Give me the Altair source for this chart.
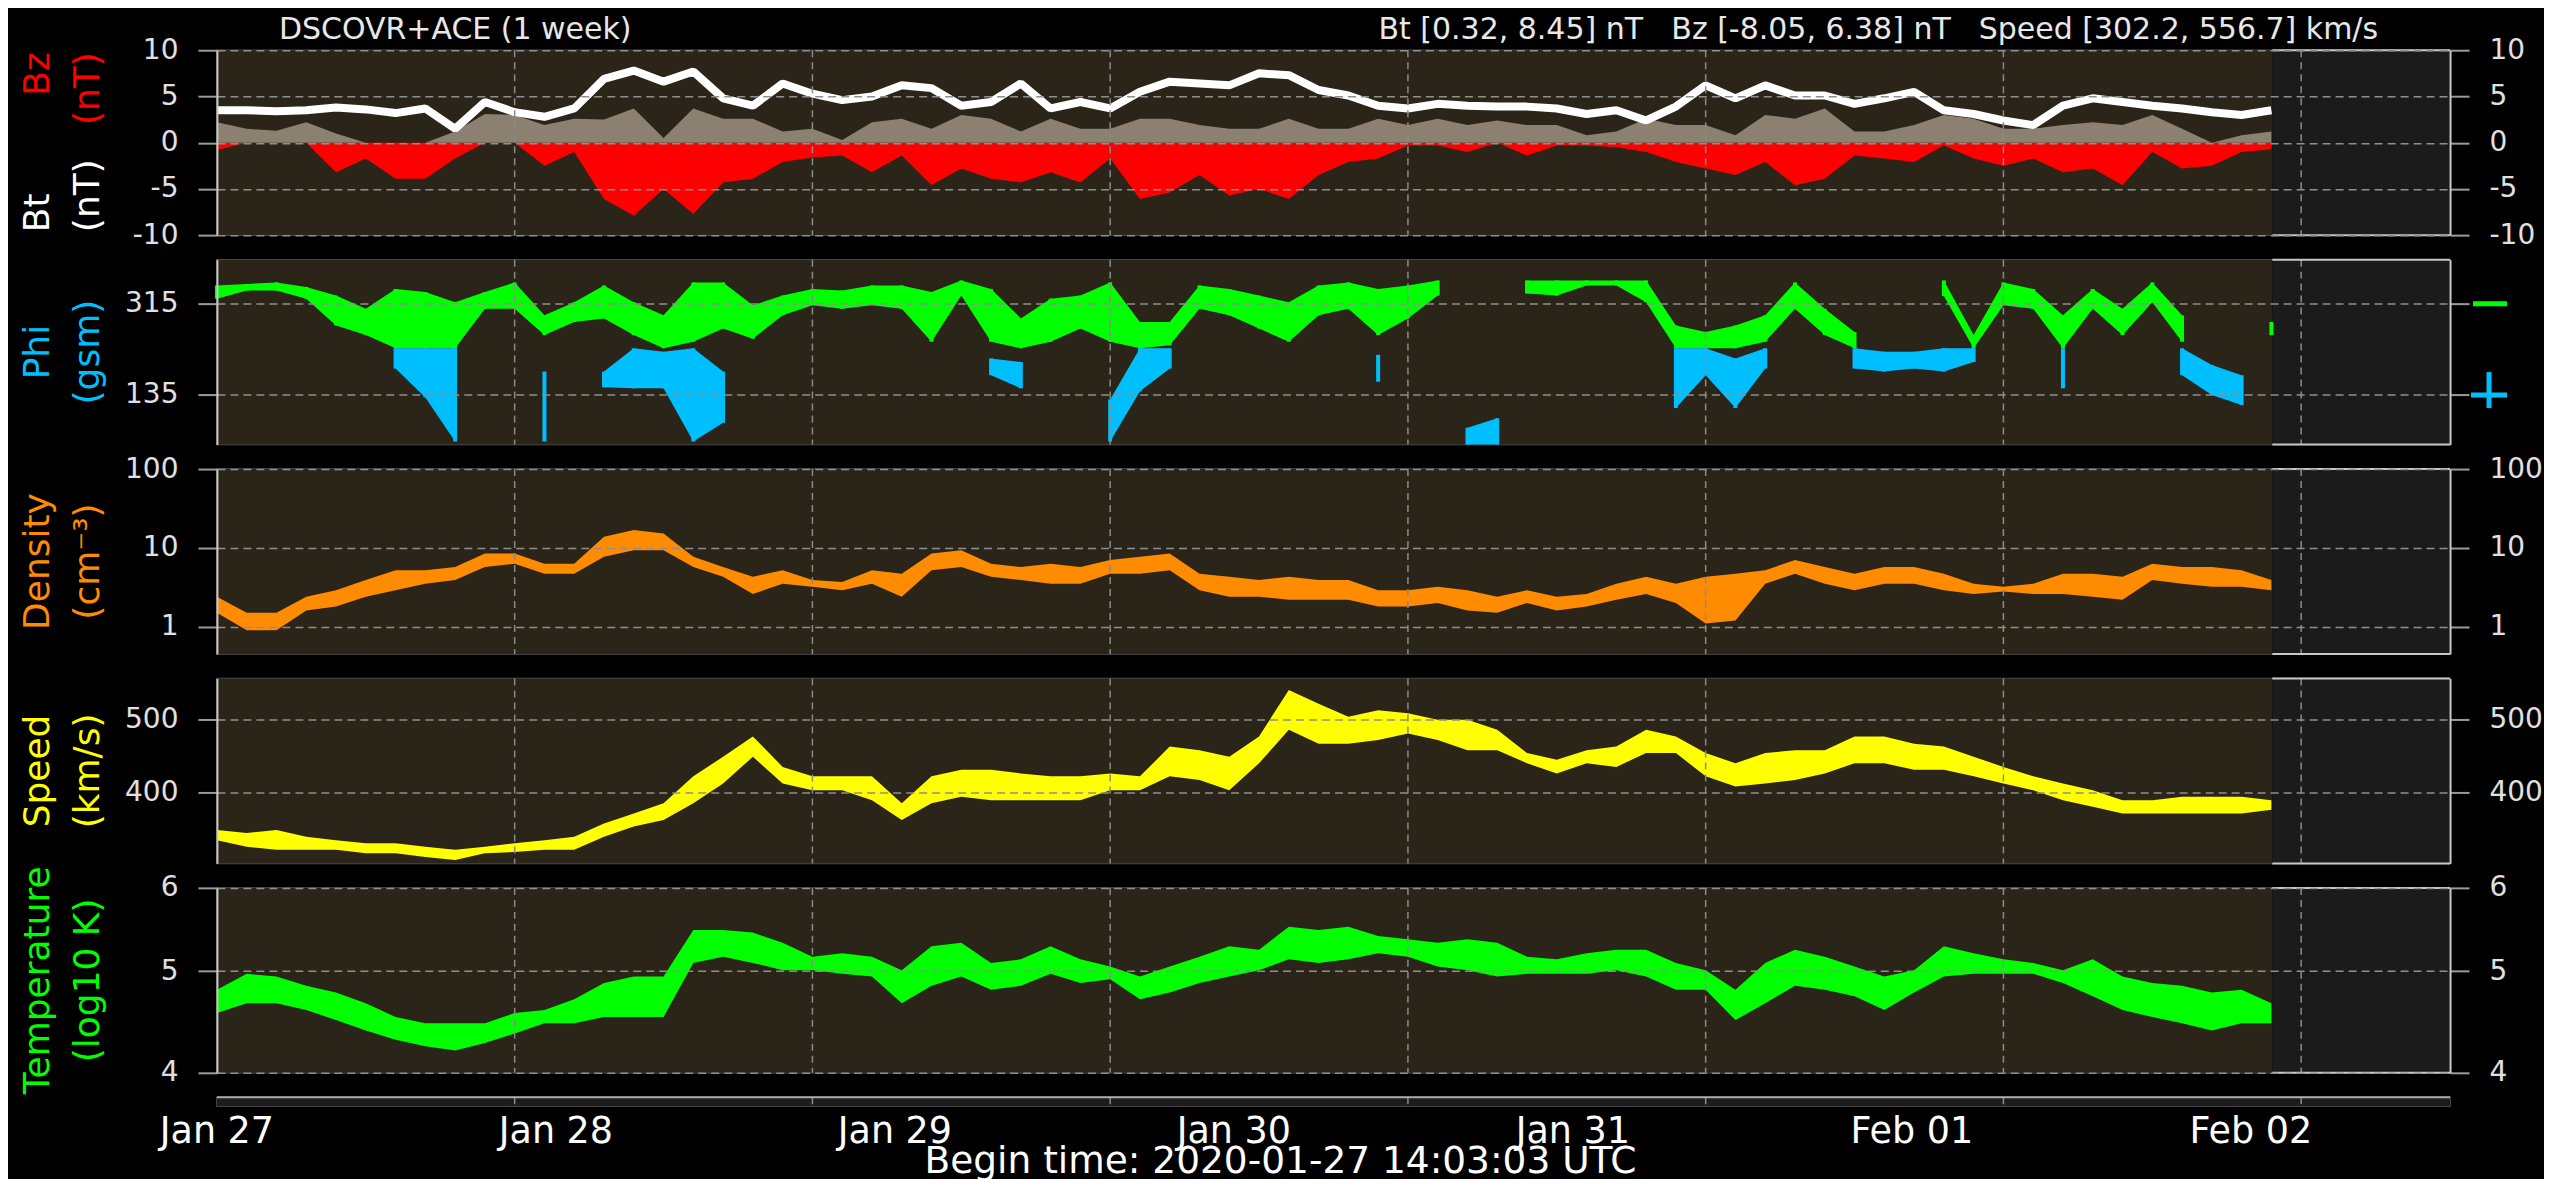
import altair as alt
import pandas as pd

FONT = "DejaVu Sans"

# ---------------- x positions (days since begin time) and labels ----------------
DAY = [round(0.1 * i, 1) for i in range(70)]
DATA_END = 6.903
X_MAX = 7.5
GRID_DAYS = [1, 2, 3, 4, 5, 6, 7]
LABEL_POS = [0.0, 1.1385, 2.277, 3.4155, 4.554, 5.6925, 6.831]
LABEL_TXT = ["Jan 27", "Jan 28", "Jan 29", "Jan 30", "Jan 31", "Feb 01", "Feb 02"]

# ---------------- Bt / Bz (nT) ----------------
BT = [3.5, 3.5, 3.4, 3.5, 3.8, 3.6, 3.2, 3.7, 1.5, 4.4,
      3.3, 2.8, 3.7, 6.9, 7.8, 6.6, 7.7, 4.8, 4.0, 6.4,
      5.3, 4.6, 5.0, 6.2, 5.9, 4.0, 4.4, 6.4, 3.7, 4.4,
      3.7, 5.5, 6.6, 6.4, 6.2, 7.5, 7.3, 5.7, 5.1, 4.0,
      3.7, 4.2, 4.0, 3.9, 3.9, 3.7, 3.1, 3.5, 2.4, 3.9,
      6.2, 4.8, 6.2, 5.1, 5.1, 4.2, 4.8, 5.5, 3.5, 3.1,
      2.4, 1.9, 4.0, 4.8, 4.4, 4.0, 3.7, 3.3, 3.0, 3.5]
BZ_NEG = [-0.8, 0, 0, 0, -3.2, -1.7, -3.9, -3.9, -1.7, 0,
          0, -2.5, -1.0, -6.1, -7.9, -5.0, -7.7, -4.3, -3.9, -2.1,
          -1.6, -1.4, -3.2, -1.4, -4.6, -2.8, -3.9, -4.3, -3.2, -4.3,
          -1.7, -6.1, -5.4, -3.5, -5.7, -5.0, -6.1, -3.5, -2.1, -1.7,
          -0.3, -0.3, -1.0, 0, -1.4, -0.3, -0.3, -0.5, -1.0, -2.1,
          -2.8, -3.5, -2.1, -4.6, -3.9, -1.4, -1.7, -2.1, -0.3, -1.7,
          -2.5, -1.7, -3.2, -2.8, -4.6, -1.0, -2.8, -2.5, -1.0, -0.7]
BZ_POS = [2.2, 1.5, 1.3, 2.2, 1.0, 0, 0, 0, 1.2, 3.1,
          3.0, 1.9, 2.6, 2.5, 3.7, 0.5, 3.7, 2.6, 2.6, 1.2,
          1.5, 0.3, 2.2, 2.6, 1.5, 3.0, 2.6, 1.2, 2.6, 1.5,
          1.5, 2.6, 2.6, 1.9, 1.5, 1.5, 2.6, 1.5, 1.5, 2.6,
          1.9, 2.6, 1.9, 2.4, 1.9, 1.9, 0.8, 1.2, 2.6, 1.9,
          1.9, 0.8, 3.0, 2.6, 3.7, 1.2, 1.2, 1.9, 3.0, 2.6,
          1.5, 1.5, 1.9, 2.2, 1.9, 3.0, 1.5, 0, 0.8, 1.2]

# ---------------- Phi (gsm, deg) ----------------
N = None
PHI_G_HI = [351, 354, 357, 348, 331, 305, 344, 338, 318, 338,
            357, 292, 318, 351, 318, 292, 357, 357, 312, 331,
            344, 341, 351, 351, 338, 361, 344, 286, 325, 331,
            357, 279, 279, 351, 344, 331, 318, 351, 357, 344,
            351, 361, N, N, 361, 361, 361, 361, 361, 272,
            259, 272, 292, 357, 305, 259, N, N, 361, 253,
            357, 344, 292, 344, 305, 357, 292, N, N, 279]
PHI_G_LO = [325, 341, 341, 325, 272, 253, 227, 227, 227, 305,
            305, 253, 279, 286, 253, 227, 240, 266, 246, 292,
            312, 305, 312, 305, 240, 331, 240, 227, 240, 266,
            240, 227, 233, 305, 292, 266, 240, 292, 305, 253,
            286, 331, N, N, 335, 331, 351, 351, 318, 227,
            227, 227, 240, 305, 253, 227, N, N, 330, 227,
            312, 305, 227, 305, 253, 318, 240, N, N, 253]
PHI_B_HI = [N, N, N, N, N, N, 227, 227, 227, N,
            N, 181, N, 181, 227, 220, 227, 181, N, N,
            N, N, N, N, N, N, 207, 200, N, N,
            126, 227, 227, N, N, N, N, N, N, 214,
            N, N, 70, 89, N, N, N, N, N, 227,
            227, 207, 227, N, N, 227, 220, 220, 227, 227,
            N, N, 227, N, N, N, 227, 194, 174, N]
PHI_B_LO = [N, N, N, N, N, N, 187, 130, 43, N,
            N, 43, N, 150, 148, 148, 43, 80, N, N,
            N, N, N, N, N, N, 174, 148, N, N,
            43, 142, 187, N, N, N, N, N, N, 161,
            N, N, 37, 37, N, N, N, N, N, 109,
            174, 109, 187, N, N, 187, 181, 187, 181, 200,
            N, N, 148, N, N, N, 174, 135, 115, N]

# ---------------- Density (cm^-3) ----------------
DENS_HI = [2.4, 1.5, 1.5, 2.4, 2.9, 3.9, 5.2, 5.2, 5.7, 8.5,
           8.5, 6.3, 6.3, 13.8, 16.8, 15.2, 7.7, 5.7, 4.3, 5.2,
           3.9, 3.7, 5.2, 4.7, 8.5, 9.3, 6.3, 5.7, 6.3, 5.7,
           7.0, 7.7, 8.5, 4.7, 4.3, 3.9, 4.3, 3.9, 3.9, 2.9,
           2.9, 3.2, 2.9, 2.4, 2.9, 2.4, 2.6, 3.5, 4.3, 3.5,
           4.3, 4.7, 5.2, 7.0, 5.7, 4.7, 5.7, 5.7, 4.7, 3.5,
           3.2, 3.5, 4.7, 4.7, 4.3, 6.3, 5.7, 5.7, 5.2, 3.9]
DENS_LO = [1.5, 0.9, 0.9, 1.6, 1.8, 2.4, 2.9, 3.5, 3.9, 5.7,
           6.3, 4.7, 4.7, 7.7, 9.3, 9.3, 5.7, 4.3, 2.6, 3.5,
           3.2, 2.9, 3.5, 2.4, 5.2, 5.7, 4.3, 3.9, 3.5, 3.5,
           4.7, 4.7, 5.2, 2.9, 2.4, 2.4, 2.2, 2.2, 2.2, 1.8,
           1.8, 2.0, 1.6, 1.5, 2.0, 1.6, 1.8, 2.2, 2.6, 2.0,
           1.1, 1.2, 3.5, 4.7, 3.5, 2.9, 3.5, 3.5, 2.9, 2.6,
           2.8, 2.6, 2.6, 2.4, 2.2, 3.9, 3.5, 3.2, 3.2, 2.9]

# ---------------- Speed (km/s) ----------------
SPEED_HI = [348, 344, 348, 339, 334, 330, 330, 325, 321, 325,
            330, 334, 339, 357, 371, 385, 422, 449, 477, 435,
            422, 422, 422, 385, 422, 431, 431, 426, 422, 422,
            426, 422, 463, 458, 449, 477, 541, 522, 504, 513,
            509, 500, 500, 486, 454, 445, 458, 463, 486, 477,
            454, 440, 454, 458, 458, 477, 477, 467, 463, 449,
            435, 422, 412, 403, 389, 389, 394, 394, 394, 389]
SPEED_LO = [334, 325, 321, 321, 321, 316, 316, 311, 307, 316,
            318, 321, 321, 339, 353, 362, 385, 412, 449, 412,
            403, 403, 389, 362, 385, 394, 389, 389, 389, 389,
            403, 403, 422, 417, 403, 440, 486, 467, 467, 472,
            481, 472, 458, 458, 440, 426, 440, 435, 454, 454,
            422, 408, 412, 417, 426, 440, 440, 431, 431, 422,
            412, 403, 389, 380, 371, 371, 371, 371, 371, 376]

# ---------------- Temperature (log10 K) ----------------
TEMP_HI = [4.80, 4.97, 4.94, 4.84, 4.77, 4.66, 4.52, 4.46, 4.46, 4.46,
           4.56, 4.59, 4.70, 4.87, 4.94, 4.94, 5.47, 5.47, 5.44, 5.32,
           5.16, 5.20, 5.16, 5.01, 5.28, 5.32, 5.09, 5.13, 5.28, 5.13,
           5.05, 4.94, 5.05, 5.16, 5.28, 5.24, 5.51, 5.47, 5.51, 5.40,
           5.36, 5.32, 5.36, 5.32, 5.16, 5.13, 5.20, 5.24, 5.24, 5.09,
           5.01, 4.80, 5.09, 5.24, 5.16, 5.05, 4.94, 5.01, 5.28, 5.20,
           5.13, 5.09, 5.01, 5.13, 4.94, 4.87, 4.84, 4.77, 4.80, 4.66]
TEMP_LO = [4.56, 4.66, 4.66, 4.59, 4.49, 4.39, 4.30, 4.24, 4.20, 4.27,
           4.36, 4.46, 4.46, 4.52, 4.52, 4.52, 5.09, 5.16, 5.09, 5.01,
           5.01, 4.97, 4.94, 4.66, 4.84, 4.94, 4.80, 4.84, 4.97, 4.87,
           4.91, 4.70, 4.77, 4.87, 4.94, 5.01, 5.13, 5.09, 5.13, 5.20,
           5.16, 5.05, 5.01, 4.94, 4.97, 4.97, 4.97, 5.01, 4.94, 4.80,
           4.80, 4.49, 4.66, 4.84, 4.80, 4.73, 4.59, 4.77, 4.94, 4.97,
           4.97, 4.97, 4.87, 4.73, 4.59, 4.52, 4.46, 4.39, 4.46, 4.46]

# ---------------- styling ----------------
W, H, STRIP_H = 2234, 185, 9
BROWN, FUTURE = "#2b2418", "#1b1b1b"
RED, GRAYBZ, WHITE = "#ff0000", "#8c8070", "#ffffff"
GREEN, BLUE, ORANGE, YELLOW = "#00ff00", "#00bfff", "#ff8c00", "#ffff00"
TITLE_C = "#e8e8e8"

XS = alt.Scale(domain=[0, X_MAX], nice=False, zero=False)
ONE = pd.DataFrame({"k": [0]})

df = pd.DataFrame({
    "day": DAY, "bt": BT, "bzn": BZ_NEG, "bzp": BZ_POS,
    "dhi": DENS_HI, "dlo": DENS_LO, "shi": SPEED_HI, "slo": SPEED_LO,
    "thi": TEMP_HI, "tlo": TEMP_LO,
})


def segments(hi, lo):
    rows, seg, prev = [], 0, False
    for d, h, l in zip(DAY, hi, lo):
        if h is None:
            if prev:
                seg += 1
            prev = False
            continue
        rows.append({"day": d, "hi": h, "lo": l, "seg": seg})
        prev = True
    return pd.DataFrame(rows)


def xenc(field="day"):
    return alt.X(f"{field}:Q", scale=XS, axis=None)


def background(h):
    bg = pd.DataFrame({"x0": [0, DATA_END], "x1": [DATA_END, X_MAX], "fill": [BROWN, FUTURE]})
    return alt.Chart(bg).mark_rect().encode(
        x=xenc("x0"), x2="x1:Q", y=alt.value(0), y2=alt.value(h),
        color=alt.Color("fill:N", scale=None))


def future_border(h):
    fb = pd.DataFrame({"x0": [DATA_END, DATA_END], "x1": [X_MAX, X_MAX], "yy": [0, h]})
    return alt.Chart(fb).mark_rule(color="#c8c8c8", strokeWidth=2).encode(
        x=xenc("x0"), x2="x1:Q", y=alt.Y("yy:Q", scale=None))


def vgrid(h):
    g = pd.DataFrame({"d": GRID_DAYS})
    return alt.Chart(g).mark_rule(color="#8a8a8a", strokeWidth=1.5, strokeDash=[7, 5]).encode(
        x=xenc("d"), y=alt.value(0), y2=alt.value(h))


def axis_layer(domain, yscale, ticks, orient, labels=True, grid=False):
    d = pd.DataFrame({"v": domain})
    ax = alt.Axis(orient=orient, values=ticks, grid=grid, gridDash=[8, 5], gridColor="#8f8f8f",
                  gridWidth=1.5, gridOpacity=1, ticks=True, tickSize=19, tickColor="#9a9a9a",
                  tickWidth=2, labels=labels, labelColor="#e0e0e0", labelFontSize=28,
                  labelFont=FONT, labelPadding=20, labelExpr="'' + datum.value",
                  labelFlush=False, labelOverlap=False, labelBound=False, domain=True,
                  domainColor="#c8c8c8", domainWidth=2, title=None, zindex=1)
    return alt.Chart(d).mark_point(opacity=0).encode(
        x=alt.value(0), y=alt.Y("v:Q", scale=yscale, axis=ax))


def label(text, x, y, color, size, align="center", angle=0, baseline="middle"):
    return alt.Chart(ONE).mark_text(text=text, color=color, fontSize=size, align=align,
                                    baseline=baseline, angle=angle, font=FONT).encode(
        x=alt.value(x), y=alt.value(y))


def panel(yscale, domain, ticks, layers, right_labels=True):
    inner = alt.layer(background(H), *layers, vgrid(H), future_border(H))
    return alt.layer(
        inner,
        axis_layer(domain, yscale, ticks, "left", grid=True),
        axis_layer(domain, yscale, ticks, "right", labels=right_labels),
    ).resolve_scale(y="independent").properties(width=W, height=H)


C1, C2, TS = -178.5, -129, 36

# ---- panel 1: Bz / Bt ----
YS1 = alt.Scale(domain=[-10, 10], nice=False, zero=False)
base = alt.Chart(df)
p1 = panel(YS1, [-10, 10], [-10, -5, 0, 5, 10], [
    base.mark_area(color=RED, orient="vertical").encode(
        x=xenc(), y=alt.Y("bzn:Q", scale=YS1, axis=None), y2=alt.datum(0)),
    base.mark_area(color=GRAYBZ, orient="vertical").encode(
        x=xenc(), y=alt.Y("bzp:Q", scale=YS1, axis=None), y2=alt.datum(0)),
    base.mark_line(color=WHITE, strokeWidth=8, strokeJoin="bevel").encode(
        x=xenc(), y=alt.Y("bt:Q", scale=YS1, axis=None)),
    label("Bz", C1, 2, RED, TS, align="right", angle=270),
    label("(nT)", C2, 2, RED, TS, align="right", angle=270),
    label("Bt", C1, 182, WHITE, TS, align="left", angle=270),
    label("(nT)", C2, 182, WHITE, TS, align="left", angle=270),
    label("DSCOVR+ACE (1 week)", 62, -11.5, TITLE_C, 30, align="left", baseline="alphabetic"),
    label("Bt [0.32, 8.45] nT", 1162, -11.5, TITLE_C, 30, align="left", baseline="alphabetic"),
    label("Bz [-8.05, 6.38] nT", 1455, -11.5, TITLE_C, 30, align="left", baseline="alphabetic"),
    label("Speed [302.2, 556.7] km/s", 2162, -11.5, TITLE_C, 30, align="right", baseline="alphabetic"),
    alt.Chart(ONE).mark_rule(color="black", strokeWidth=1).encode(
        x=alt.value(-207.5), y=alt.value(-40), y2=alt.value(-30)),
])

# ---- panel 2: Phi ----
YS2 = alt.Scale(domain=[37, 402], nice=False, zero=False)
g_df = segments(PHI_G_HI, PHI_G_LO)
b_df = segments(PHI_B_HI, PHI_B_LO)
p2 = panel(YS2, [37, 402], [135, 315], [
    alt.Chart(g_df).mark_area(color=GREEN, orient="vertical").encode(
        x=xenc(), y=alt.Y("hi:Q", scale=YS2, axis=None), y2="lo:Q", detail="seg:N"),
    alt.Chart(g_df).mark_rule(color=GREEN, strokeWidth=4).encode(
        x=xenc(), y=alt.Y("hi:Q", scale=YS2, axis=None), y2="lo:Q"),
    alt.Chart(b_df).mark_area(color=BLUE, orient="vertical").encode(
        x=xenc(), y=alt.Y("hi:Q", scale=YS2, axis=None), y2="lo:Q", detail="seg:N"),
    alt.Chart(b_df).mark_rule(color=BLUE, strokeWidth=4).encode(
        x=xenc(), y=alt.Y("hi:Q", scale=YS2, axis=None), y2="lo:Q"),
    alt.Chart(ONE).mark_rule(color=GREEN, strokeWidth=5).encode(
        x=alt.value(W + 23), x2=alt.value(W + 57), y=alt.datum(315)),
    alt.Chart(ONE).mark_rule(color=BLUE, strokeWidth=5).encode(
        x=alt.value(W + 21), x2=alt.value(W + 57), y=alt.datum(135)),
    alt.Chart(ONE).mark_rule(color=BLUE, strokeWidth=5).encode(
        x=alt.value(W + 39), y=alt.datum(180), y2=alt.datum(109)),
    label("Phi", C1, H / 2, BLUE, TS, angle=270),
    label("(gsm)", C2, H / 2, BLUE, TS, angle=270),
], right_labels=False)

# ---- panel 3: Density ----
YS3 = alt.Scale(type="log", domain=[0.45, 100], nice=False)
p3 = panel(YS3, [0.45, 100], [1, 10, 100], [
    base.mark_area(color=ORANGE, orient="vertical").encode(
        x=xenc(), y=alt.Y("dhi:Q", scale=YS3, axis=None), y2="dlo:Q"),
    label("Density", C1, H / 2, ORANGE, TS, angle=270),
    label("(cm\u207b\u00b3)", C2, H / 2, ORANGE, TS, angle=270),
])

# ---- panel 4: Speed ----
YS4 = alt.Scale(domain=[302.2, 556.7], nice=False, zero=False)
p4 = panel(YS4, [302.2, 556.7], [400, 500], [
    base.mark_area(color=YELLOW, orient="vertical").encode(
        x=xenc(), y=alt.Y("shi:Q", scale=YS4, axis=None), y2="slo:Q"),
    label("Speed", C1, H / 2, YELLOW, TS, angle=270),
    label("(km/s)", C2, H / 2, YELLOW, TS, angle=270),
])

# ---- panel 5: Temperature ----
YS5 = alt.Scale(type="log", domain=[4, 6], nice=False)
p5 = panel(YS5, [4, 6], [4, 5, 6], [
    base.mark_area(color=GREEN, orient="vertical").encode(
        x=xenc(), y=alt.Y("thi:Q", scale=YS5, axis=None), y2="tlo:Q"),
    label("Temperature", C1, H / 2, GREEN, TS, angle=270),
    label("(log10 K)", C2, H / 2, GREEN, TS, angle=270),
])

# ---- bottom strip with time labels ----
strip = alt.layer(
    alt.Chart(pd.DataFrame({"x0": [0], "x1": [X_MAX]})).mark_rect(color="#1c1c1c").encode(
        x=xenc("x0"), x2="x1:Q", y=alt.value(0), y2=alt.value(STRIP_H)),
    vgrid(STRIP_H),
    alt.Chart(pd.DataFrame({"x0": [0], "x1": [X_MAX]})).mark_rule(color="#aaaaaa", strokeWidth=2).encode(
        x=xenc("x0"), x2="x1:Q", y=alt.value(0)),
    alt.Chart(pd.DataFrame({"pos": LABEL_POS, "txt": LABEL_TXT})).mark_text(
        fontSize=36.5, color="white", baseline="alphabetic", align="center", font=FONT).encode(
        x=xenc("pos"), y=alt.value(45.7), text="txt:N"),
    label("Begin time: 2020-01-27 14:03:03 UTC", 1064, 75.7, "white", 37.5, baseline="alphabetic"),
).properties(width=W, height=STRIP_H)

chart = alt.vconcat(p1, p2, p3, p4, p5, strip, spacing=24.5, bounds="flush").properties(
    padding=0
).configure(background="black", font=FONT).configure_view(stroke="#555555", strokeWidth=1.5)

chart.save("out.html", embed_options={"renderer": "svg", "actions": False})
